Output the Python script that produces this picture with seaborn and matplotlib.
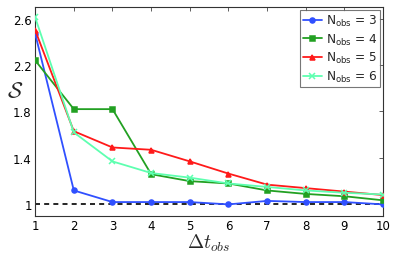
import matplotlib
matplotlib.use("Agg")
import matplotlib.pyplot as plt
from matplotlib.font_manager import FontProperties
import seaborn as sns
import pandas as pd
import numpy as np

sns.set_theme(style="white")
plt.rcParams['font.family'] = ['DejaVu Sans']
plt.rcParams['mathtext.fontset'] = 'cm'

dt = [1, 2, 3, 4, 5, 6, 7, 8, 9, 10]
s_n3 = [2.47, 1.12, 1.02, 1.02, 1.02, 1.00, 1.03, 1.02, 1.02, 1.00]
s_n4 = [2.24, 1.82, 1.82, 1.26, 1.20, 1.18, 1.12, 1.09, 1.07, 1.035]
s_n5 = [2.50, 1.63, 1.49, 1.47, 1.37, 1.265, 1.17, 1.14, 1.11, 1.08]
s_n6 = [2.61, 1.62, 1.37, 1.27, 1.23, 1.18, 1.15, 1.12, 1.10, 1.085]
labels = [r'N$_{\mathrm{obs}}$ = 3', r'N$_{\mathrm{obs}}$ = 4',
          r'N$_{\mathrm{obs}}$ = 5', r'N$_{\mathrm{obs}}$ = 6']
yticks = [1, 1.4, 1.8, 2.2, 2.6]
ytick_labels = ['1', '1.4', '1.8', '2.2', '2.6']

colors = ['#3050ff', '#22a022', '#ff1a1a', '#5effb0']
markers = ['o', 's', '^', 'x']

df = pd.DataFrame({
    'dt': dt * 4,
    'S': s_n3 + s_n4 + s_n5 + s_n6,
    'series': sum([[l] * len(dt) for l in labels], []),
})

fig = plt.figure(figsize=(3.95, 2.55), dpi=100)
ax = fig.add_axes([0.089, 0.149, 0.881, 0.82])

ax.axhline(1.0, color='black', ls='--', lw=1.2, dashes=(3, 2.5), zorder=1)

for lab, c, m in zip(labels, colors, markers):
    sub = df[df['series'] == lab]
    sns.lineplot(data=sub, x='dt', y='S', ax=ax, color=c, marker=m,
                 markersize=3.6 if m != 'x' else 4.5, markeredgecolor=c,
                 markeredgewidth=1.1, lw=1.3, label=lab, zorder=3)

ax.set_xlim(1, 10)
ax.set_ylim(0.9, 2.7)
ax.set_xticks(dt)
ax.set_xticklabels([str(v) for v in dt])
ax.set_yticks(yticks)
ax.set_yticklabels(ytick_labels)
ax.tick_params(direction='in', length=3, width=0.6, labelsize=8.5, top=True, right=True,
               colors='#444444', labelcolor='black', pad=2.5)
for sp in ax.spines.values():
    sp.set_color('#333333')
    sp.set_linewidth(0.8)
ax.set_xlabel(r'$\Delta t_{obs}$', fontsize=14, va='bottom')
ax.xaxis.set_label_coords(0.5, -0.178)
ax.set_ylabel(r'$\mathcal{S}$', fontsize=16, rotation=0, va='center', ha='center')
ax.yaxis.set_label_coords(-0.058, 0.6)

leg = ax.legend(loc='upper right',
                prop=FontProperties(family='DejaVu Sans', size=8.7, math_fontfamily='dejavusans'),
                frameon=True, fancybox=False,
                borderpad=0.25, labelspacing=0.3, handlelength=1.6, handletextpad=0.3,
                borderaxespad=0.25)
leg.get_frame().set_edgecolor('#555555')
leg.get_frame().set_linewidth(0.8)

fig.savefig('out.png', dpi=100)
